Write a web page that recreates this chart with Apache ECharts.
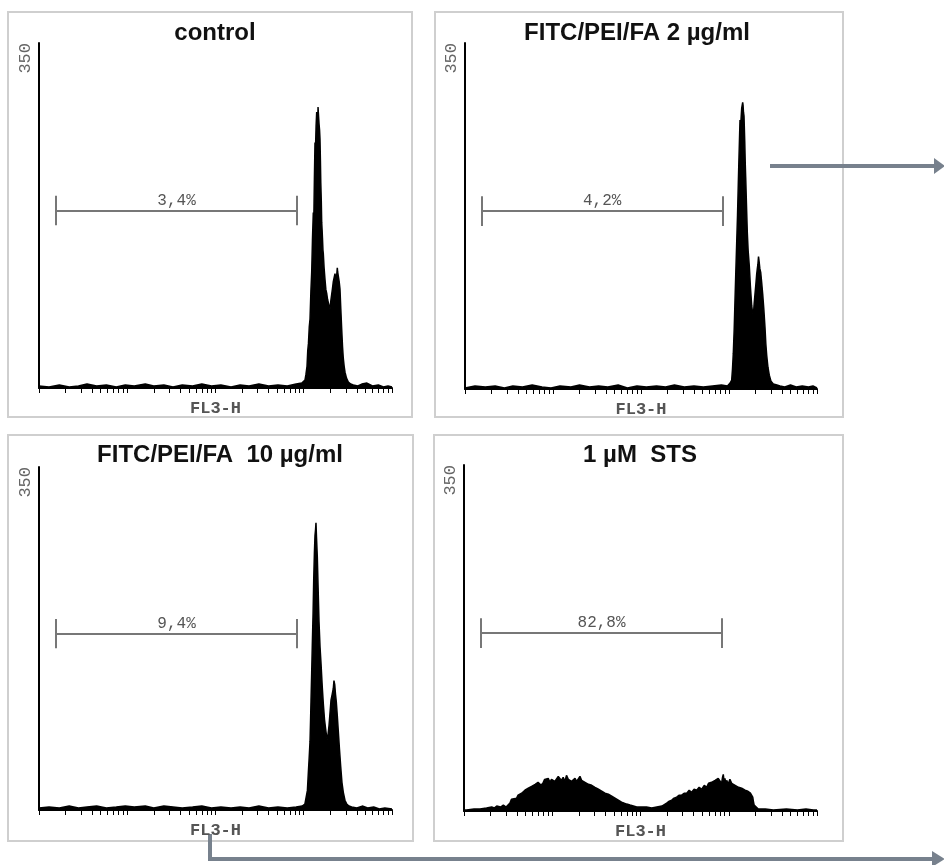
<!DOCTYPE html>
<html>
<head>
<meta charset="utf-8">
<script src="https://cdn.jsdelivr.net/npm/echarts@6/dist/echarts.min.js"></script>
<style>html,body{margin:0;background:#fff}#main{width:944px;height:865px}</style>
</head>
<body>
<div id="main"></div>
<script>
// panel titles and gate percentages
const panelTitles = ['control', 'FITC/PEI/FA 2 µg/ml', 'FITC/PEI/FA  10 µg/ml', '1 µM  STS'];
const gatePercent = ['3,4%', '4,2%', '9,4%', '82,8%'];
// gate M1 range on FL3-H and the height it is drawn at (counts)
const gateRange = [1.56, 840];
const gateLevel = 180;

// log decade ticks on FL3-H
const xTicks = [1,2,3,4,5,6,7,8,9,10,20,30,40,50,60,70,80,90,
  100,200,300,400,500,600,700,800,900,1000,2000,3000,4000,5000,6000,7000,8000,9000,10000];

// histograms: [FL3-H, counts]
const controlHist = [
  [1,2],[1.3,1],[1.7,3],[2.2,1],[2.8,2],[3.5,4],[4.5,2],[5.8,3],[7.5,1],[9.5,3],[12,2],[16,4],[20,2],
  [26,3],[33,1],[42,3],[55,2],[70,4],[90,2],[115,3],[150,1],[190,3],[240,2],[310,4],[400,2],[510,3],
  [650,2],[820,4],[950,5],[1000,6],[1033,8],[1060,14],[1089,22],[1110,38],[1130,45],[1155,62],[1178,70],
  [1205,98],[1231,118],[1255,150],[1283,178],[1300,170],[1320,212],[1341,249],[1360,244],[1380,266],
  [1402,280],[1420,274],[1440,270],[1452,285],[1462,280],[1490,268],[1510,262],[1528,252],[1545,230],
  [1560,208],[1580,190],[1597,168],[1615,160],[1630,152],[1650,140],[1667,136],[1700,122],[1741,110],
  [1780,100],[1820,96],[1860,90],[1899,88],[1940,83],[1984,80],[2030,89],[2073,95],[2110,100],
  [2162,108],[2210,112],[2260,116],[2310,110],[2362,114],[2400,122],[2420,118],[2465,120],[2520,108],
  [2575,100],[2630,80],[2690,60],[2750,42],[2807,30],[2870,22],[2934,16],[3050,10],[3198,6],[3400,4],
  [3644,3],[4100,2],[4550,4],[5200,5],[6000,2],[7000,3],[8000,1],[9000,2],[10000,1]
];
const fa2Hist = [
  [1,1],[1.3,3],[1.7,2],[2.2,3],[2.8,1],[3.5,3],[4.5,2],[5.8,4],[7.5,2],[9.5,1],[12,3],[16,2],[20,4],
  [26,2],[33,3],[42,2],[55,4],[70,1],[90,3],[115,2],[150,3],[190,2],[240,4],[310,2],[400,3],[510,2],
  [650,3],[820,4],[960,3],[1000,5],[1030,6],[1073,9],[1095,20],[1119,36],[1145,60],[1170,90],[1195,118],
  [1223,148],[1250,176],[1276,208],[1300,236],[1334,272],[1360,268],[1394,284],[1431,290],[1445,287],
  [1460,280],[1481,276],[1510,250],[1530,228],[1548,214],[1580,186],[1615,158],[1650,140],[1702,124],
  [1750,104],[1812,84],[1850,78],[1890,74],[1930,86],[1974,96],[2020,106],[2063,116],[2100,122],
  [2130,126],[2165,134],[2193,130],[2240,122],[2292,118],[2350,108],[2415,96],[2490,80],[2566,62],
  [2620,46],[2682,34],[2770,22],[2870,14],[3000,8],[3186,5],[3500,4],[3800,3],[4300,2],[5000,4],
  [5800,2],[6800,3],[8000,2],[9000,3],[10000,1]
];
const fa10Hist = [
  [1,2],[1.3,3],[1.7,2],[2.2,4],[2.8,2],[3.5,3],[4.5,4],[5.8,2],[7.5,3],[9.5,4],[12,3],[16,4],[20,2],
  [26,4],[33,3],[42,2],[55,3],[70,4],[90,2],[115,3],[150,2],[190,3],[240,2],[310,4],[400,2],[510,3],
  [650,2],[820,3],[960,4],[1000,5],[1030,6],[1080,8],[1100,20],[1127,38],[1150,52],[1178,70],[1195,92],
  [1209,112],[1230,140],[1250,168],[1275,200],[1297,235],[1320,262],[1341,280],[1360,286],[1376,293],
  [1395,278],[1425,258],[1455,226],[1489,192],[1530,166],[1568,150],[1620,126],[1667,108],[1720,92],
  [1774,82],[1810,76],[1849,72],[1890,78],[1932,86],[1980,98],[2036,112],[2100,118],[2162,124],
  [2200,132],[2244,128],[2290,118],[2340,110],[2400,96],[2465,80],[2540,62],[2624,44],[2710,28],
  [2807,18],[2930,10],[3067,6],[3250,4],[3493,3],[4000,2],[4600,4],[5300,2],[6200,3],[7200,1],
  [8300,2],[10000,1]
];
const stsHist = [
  [1,1],[1.07,1],[1.3,2],[1.52,2],[1.8,3],[2.06,4],[2.2,3],[2.35,5],[2.6,4],[2.79,6],[3.0,4],[3.15,6],
  [3.32,8],[3.45,12],[3.6,10],[3.95,13],[4.1,16],[4.3,15],[4.5,18],[4.7,16],[4.9,21],[5.1,20],[5.35,23],
  [5.6,21],[5.85,25],[6.1,24],[6.4,27],[6.67,25],[6.9,29],[7.2,28],[7.5,26],[7.92,29],[8.2,32],[8.6,30],
  [9.0,33],[9.43,29],[9.8,32],[10.3,34],[10.7,30],[11.2,32],[11.7,35],[12.2,33],[12.7,31],[13.3,34],
  [13.9,30],[14.5,36],[15.2,32],[15.9,34],[16.6,30],[17.3,31],[18.1,33],[18.9,30],[19.7,32],[20.6,35],
  [21.5,31],[22.5,32],[23.5,29],[24.6,30],[25.7,27],[26.8,29],[28,26],[29.3,27],[30.5,24],[31.9,25],
  [33.3,22],[34.8,23],[36.3,20],[37.9,21],[39.6,18],[41.4,19],[43.2,17],[45.1,18],[47.2,15],[49.3,16],
  [51.4,13],[53.7,14],[56,11],[58.6,11],[61,9],[63.8,9],[69.7,7],[76,6],[83,5],[90.6,4],[103,4],
  [117,4],[134,3],[153,4],[175,5],[198,8],[212,10],[226,11],[240,13],[257,14],[275,16],[293,16],
  [312,18],[334,18],[356,21],[380,19],[405,22],[433,21],[462,24],[494,22],[528,26],[562,24],[590,28],
  [612,26],[640,29],[669,27],[700,31],[730,29],[760,33],[796,31],[830,28],[850,34],[867,37],[885,30],
  [905,33],[925,28],[948,31],[985,27],[1030,32],[1080,28],[1127,29],[1180,26],[1230,28],[1290,24],
  [1341,26],[1400,23],[1460,24],[1530,21],[1597,23],[1650,20],[1700,21],[1760,18],[1820,18],[1870,14],
  [1900,10],[1940,6],[1983,4],[2162,2],[2600,2],[3198,1],[4500,2],[6000,1],[7500,2],[9080,1],[10000,1]
];
const histograms = [controlHist, fa2Hist, fa10Hist, stsHist];

const grids = [
  {left: 39, top: 43, width: 353, height: 345},
  {left: 465, top: 43, width: 352, height: 346},
  {left: 39, top: 467, width: 353, height: 343},
  {left: 464, top: 465, width: 353, height: 346}
];
const boxes = [
  [8, 12, 404, 405], [435, 12, 408, 405], [8, 435, 405, 406], [434, 435, 409, 406]
];
const titlePos = [[215, 21], [637, 21], [220, 443], [640, 443]];

const mono = 'Liberation Mono, Courier New, monospace';
const capH = 15;

const chart = echarts.init(document.getElementById('main'));

const option = {
  backgroundColor: '#fff',
  animation: false,
  title: panelTitles.map((t, i) => ({
    text: t,
    left: titlePos[i][0],
    top: titlePos[i][1],
    textAlign: 'center',
    padding: 0,
    textStyle: {fontFamily: 'Liberation Sans, Arial', fontWeight: 'bold', fontSize: 24, color: '#111'}
  })),
  grid: grids,
  xAxis: grids.map((g, i) => ({
    type: 'log',
    logBase: 10,
    gridIndex: i,
    min: 1,
    max: 10000,
    name: 'FL3-H',
    nameLocation: 'middle',
    nameGap: 12,
    nameTextStyle: {fontFamily: mono, fontSize: 17, fontWeight: 'bold', color: '#555'},
    axisLine: {lineStyle: {color: '#000', width: 2}},
    axisTick: {show: true, customValues: xTicks, length: 5, lineStyle: {color: '#000', width: 1}},
    axisLabel: {show: false},
    splitLine: {show: false},
    minorTick: {show: false}
  })),
  yAxis: grids.map((g, i) => ({
    type: 'value',
    gridIndex: i,
    min: 0,
    max: 350,
    interval: 350,
    axisLine: {show: true, lineStyle: {color: '#000', width: 2}},
    axisTick: {show: false},
    splitLine: {show: false},
    axisLabel: {
      show: true,
      rotate: 90,
      align: 'right',
      verticalAlign: 'bottom',
      margin: 5,
      fontFamily: mono,
      fontSize: 17,
      color: '#666',
      formatter: v => (v === 350 ? '350' : '')
    }
  })),
  series: histograms.map((h, i) => ({
    type: 'line',
    xAxisIndex: i,
    yAxisIndex: i,
    data: h,
    showSymbol: false,
    symbol: 'none',
    sampling: null,
    lineStyle: {color: '#000', width: 1.5},
    areaStyle: {color: '#000', opacity: 1},
    markLine: {
      silent: true,
      symbol: ['none', 'none'],
      lineStyle: {color: '#777', width: 2, type: 'solid'},
      label: {show: false},
      data: [
        [
          {coord: [gateRange[0], gateLevel],
            label: {show: true, position: 'middle', formatter: gatePercent[i], distance: 2,
              fontFamily: mono, fontSize: 16, color: '#555'}},
          {coord: [gateRange[1], gateLevel]}
        ],
        [{coord: [gateRange[0], gateLevel - capH]}, {coord: [gateRange[0], gateLevel + capH]}],
        [{coord: [gateRange[1], gateLevel - capH]}, {coord: [gateRange[1], gateLevel + capH]}]
      ]
    }
  })),
  graphic: [
    ...boxes.map(b => ({
      type: 'rect', z: -1,
      shape: {x: b[0], y: b[1], width: b[2], height: b[3]},
      style: {fill: null, stroke: '#cfcfcf', lineWidth: 2}
    })),
    {type: 'line', shape: {x1: 770, y1: 166, x2: 936, y2: 166}, style: {stroke: '#77818d', lineWidth: 4}},
    {type: 'polygon', shape: {points: [[934, 158], [945, 166], [934, 174]]}, style: {fill: '#77818d'}},
    {type: 'polyline', shape: {points: [[210, 834], [210, 859], [934, 859]]},
      style: {stroke: '#77818d', lineWidth: 4, fill: null}},
    {type: 'polygon', shape: {points: [[932, 851], [945, 859], [932, 867]]}, style: {fill: '#77818d'}}
  ]
};

chart.setOption(option);
</script>
</body>
</html>
